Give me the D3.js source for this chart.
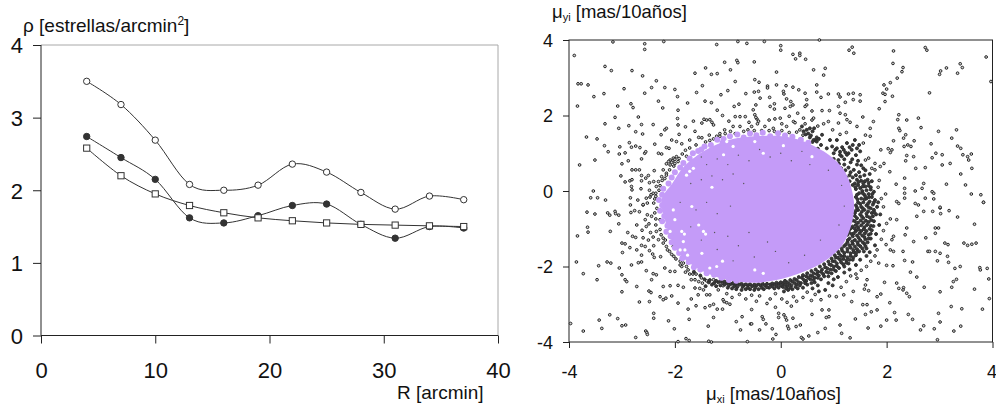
<!DOCTYPE html>
<html><head><meta charset="utf-8">
<script src="https://cdn.jsdelivr.net/npm/d3@7"></script>
<style>html,body{margin:0;padding:0;background:#fff}svg{display:block}text{font-family:"Liberation Sans",Arial,sans-serif;fill:#111}</style>
</head><body><svg id="c" width="996" height="407"></svg>
<script>
const radius=[4,7,10,13,16,19,22,25,28,31,34,37];
const openCircles=[3.5,3.18,2.69,2.08,2.0,2.07,2.36,2.25,1.97,1.74,1.92,1.87];
const filledCircles=[2.74,2.45,2.15,1.62,1.55,1.65,1.79,1.81,1.53,1.34,1.5,1.48];
const squares=[2.58,2.2,1.95,1.79,1.69,1.62,1.58,1.55,1.53,1.52,1.51,1.5];
const leftXTicks=[0,10,20,30,40];
const leftYTicks=[0,1,2,3,4];
const rightTicks=[-4,-2,0,2,4];

// field stars
const fieldFar=[[-3.9,3.59],[-3.17,3.95],[-2.57,3.9],[-2.57,3.75],[-2.21,3.96],[-1.21,3.88],[-.81,3.96],[-.64,3.91],[-.31,3.96],[0,3.85],[0,3.73],[.23,3.62],[.36,3.65],[.36,3.59],[.28,3.5],[.47,3.49],[.73,4],[1.29,3.73],[1.35,3.81],[1.38,3.65],[2.13,3.71],[2.12,3.38],[2.73,3.8],[2.76,3.73],[3.88,3.55],[3.97,2.9],[3.39,3.37],[3.43,3.27],[3.34,3.12],[3.13,3.26],[3.02,3.18],[3,3.09],[2.81,2.6],[2.31,3.27],[2.29,3.16],[2.2,2.99],[2.07,2.87],[1.95,2.81],[2,2.7],[1.93,2.59],[1.97,2.56],[2.11,2.51],[1.97,2.37],[1.86,2.18],[-3.32,3.3],[-3.2,3.19],[-3.83,2.84],[-3.77,2.84],[-3.64,2.81],[-3.53,2.5],[-3.34,2.58],[-3.84,2.25],[-2.96,2.71],[-3.08,2.25],[-3.13,1.95],[-3.32,1.78],[-3.06,1.66],[-2.87,1.73],[-2.63,1.76],[-2.41,1.76],[-2.74,1.57],[-2.61,1.51],[-3.67,1.43],[-3.47,1.38],[-3.33,1.2],[-3.26,1.04],[-3.04,1.17],[-3.05,.98],[-2.94,1.01],[-2.86,1.28],[-2.82,1.16],[-2.74,1.19],[-2.66,1.15],[-3.8,.69],[-3.51,.82],[-2.88,.8],[-3,.72],[-3.02,.4],[-2.94,.24],[-2.85,.27],[-2.81,.3],[-2.81,.56],[-2.74,.56],[-2.67,.56],[-3.54,0],[-3.59,-.18],[-3.46,-.18],[-3.31,-.24],[-2.82,.12],[-2.81,.03],[-2.84,-.18],[-2.84,-.37],
[-3.97,-3.51],[-3.73,-3.71],[-3.43,-3.42],[-3.38,-3.64],[-3.23,-3.28],[-3.08,-3.38],[-3,-3.57],[-2.93,-3.55],[-2.74,-3.88],[-2.55,-3.71],[-2.53,-3.75],[-2.52,-3.8],[-2.4,-3.24],[-2.4,-3.37],[-2.12,-3.44],[-2.01,-3.65],[-1.94,-3.99],[-1.79,-3.91],[-1.73,-3.96],[-1.36,-3.98],[-1.31,-4],[-.63,-3.99],[-1.37,-3.58],[-1.73,-3.4],[-1.27,-3.35],[-1.75,-3.13],[-1.6,-3.04],[-1.43,-3.09],[-1.34,-3.04],[-1.27,-3],[-1.2,-3.13],[-1.1,-3.13],[-.96,-3],[-1.07,-2.93],[-1.02,-2.96],[-.76,-3.68],[-.84,-3.46],[-.73,-3.33],[-.57,-3.52],[-.55,-3.52],[-.4,-3.68],[-.35,-3.33],[-.33,-3.4],[-.28,-3.52],[-.16,-3.65],[-.09,-3.8],[-.15,-3.92],[-.04,-3.24],[-.04,-3.35],[.06,-3.28],[.09,-3.35],[.11,-3.42],[.13,-3.58],[.15,-3.65],[.23,-3.37],[.29,-3.59],[.37,-3.55],[.39,-3.88],[.42,-3.92],[.53,-3.84],[.59,-3.27],[.7,-3.75],[.84,-3.64],[.78,-3.15],[.91,-3.15],[.86,-3.35],[.91,-3.33],[1.12,-3.55],[1.15,-3.77],[1.31,-3.89],[1.41,-3.39],[1.65,-3.63],[1.6,-3.27],[1.71,-3.2],[1.82,-3.15],[1.89,-3.58],[2,-3.42],[2.18,-3.42],[2.15,-3.22],[2.41,-3.27],[2.49,-3.4],[2.64,-3.68],[2.7,-3.57],[2.9,-3.65],[2.96,-3.94],[3.01,-3.47],[2.98,-3.24],[3.27,-3.71],[3.4,-3.58],[3.22,-3.06],[3.42,-3.12],[3.81,-3.13],[3.94,-2.85],[3.66,-2.6],[3.93,-2.33],[3.76,-2.03],[3.77,-2.09],[3.9,-2.05],[3.29,-2.05],[3.39,-2],[3.23,-2.55],[3.26,-2.4],[3.32,-2.34],[3.01,-2.67],[2.71,-2.55],[2.57,-2.28],[2.45,-2.15],[2.49,-1.88],[2.34,-1.84],[2.96,-1.85],[3.17,-1.89],[2.78,-1.6],[2.81,-1.6],[2.92,-1.6],[3.01,-1.65],[3.15,-1.73],[2.74,-1.24],[2.92,-1.12],[2.92,-.98],[2.98,-.98],[3.1,-1.38],[3.16,-1.42],[3.46,-1.38],[3.53,-1.44],[3.61,-1.41],[3.69,-1.38],[3.66,-.88],[3.34,-.69],[3.02,-.6],[3.18,-.52],[2.87,-.54],[3.83,-.3],[2.19,-2.44],[2.23,-2.58],[2.32,-2.56],[2.31,-2.62],[2.38,-2.71],[2.43,-2.8],[1.82,-2.8],[1.89,-2.73],[2.06,-2.96],[1.96,-2.42],[1.63,-2.35],[1.6,-2.49],[1.58,-2.6],[1.66,-2.64],[1.37,-2.66],[1.44,-2.31],[1.19,-2.75],[1.05,-2.8],[.92,-2.78],[1.34,-2.93],[1.55,-3.01],[1.63,-3.01],[2,-1.97],[2.12,-1.98],[1.85,-1.91],[1.82,-1.56],[1.99,-1.42],[2.07,-1.56],[2.13,-1.6],[2.31,-1.6],[2.13,-1.2],[2.1,-1.29],[2.35,-1.16],[2.38,-.98],[2.51,-1.34],[2.07,-.74],[2.19,-.76],[2.57,-.67],[2.7,-.54],[3.01,-.45],
[2.23,2.02],[2.21,1.89],[2.38,1.88],[2.6,1.93],[2.23,1.66],[2.25,1.6],[2.65,1.68],[2.36,1.49],[2.32,1.4],[2.46,1.18],[2.33,1.18],[2.4,1.22],[2.52,1.33],[2.13,1.33],[2.03,1.12],[2.1,1.09],[1.89,1.09],[2.07,1.02],[2.84,1.25],[2.98,1.58],[3.32,1.62],[3.23,1.4],[3.34,1.19],[3.4,1.13],[3.44,.96],[3.53,.91],[3.6,.98],[3.55,.82],[3.61,.6],[2.93,1],[3.05,.96],[2.86,.88],[3.05,.69],[3.2,.73],[2.73,.62],[2.51,.91],[2.38,.94],[2.36,.8],[2.55,.6],[3.4,.45],[3.49,.16],[3.6,-.08],[3.78,-.1],[3.83,-.3],[3.13,.18],[2.7,.2],[2.67,.07],[2.54,0],[2.86,-.02],[2.89,-.06],[2.73,-.19],[2.89,-.21],[2.34,.34],[2.18,.18],[2.06,.51],[1.88,.65],[1.95,.73],[1.78,.73],[1.66,.87],[1.6,.82],[1.78,.56],[2.34,.07],[2.34,-.06],[2.34,-.19],[2.19,-.28],[2.23,-.33],[2.54,-.33],[2.6,-.37],[3.01,-.43]];

const fieldMid=[[-1.62,3.12],[-1.42,3.26],[-1.31,3.09],[-1.2,3.11],[-.95,3.21],[-1.06,3.41],[-.83,3.46],[-.81,3.4],[-.5,3.42],[-.08,3.15],[.62,3.21],[.84,3.25],[.81,3.07],[-2.81,3.19],[-2.61,3.05],[-2.35,2.92],[-2.44,2.74],[-2.19,2.74],[-2.57,2.59],[-2,2.69],[-1.95,2.5],[-2.31,2.38],[-2.23,2.2],[-1.76,2.33],[-1.94,2.14],[-1.95,1.92],[-1.94,1.75],[-2.83,2.31],[-2.79,2.21],[-2.69,1.96],[-1.48,2.79],[-1.59,2.61],[-1.43,2.38],[-1.31,2.34],[-1.2,2.14],[-1.13,2.55],[-1,2.66],[-.86,2.9],[-.66,2.58],[-.5,2.62],[-.42,2.64],[-.49,2.95],[-.41,2.88],[-.25,2.78],[-.25,2.73],[-.39,2.46],[-.21,2.48],[-.88,2.24],[-.79,2.3],[-.47,2.28],[-.2,2.24],[-.12,2.31],[-.12,2.17],[.05,2.64],[.06,2.57],[.11,2.44],[.19,2.37],[.23,2.28],[.18,2.24],[.08,2.19],[-.11,1.91],[-.01,1.93],[-.08,2.81],[.1,2.79],[.23,2.75],[.34,2.68],[.46,2.59],[.68,2.81],[.68,2.62],[.76,2.48],[.9,2.57],[1.09,2.57],[1.12,2.49],[1.28,2.57],[1.37,2.59],[1.5,2.55],[1.37,2.42],[1.5,2.38],[1.22,2.35],[1.09,2.24],[.49,2.42],[.49,2.28],[.46,2.24],[.59,2.12],[.78,2.13],[.92,2.13],[1.12,2.06],[1.22,2.02],[1.55,1.96],[1.25,1.89],[1.31,1.82],[1.44,1.71],[1.09,1.8],[.9,1.84],[.81,1.78],[.62,1.93],[.59,1.88],[.43,1.93],[.46,1.78],[.24,1.84],[.11,1.71],
[-1.4,1.88],[-1.34,1.89],[-1.27,1.75],[-1.49,1.8],[-1.62,1.58],[-1.72,1.35],[-1.49,1.41],[-1.34,1.34],[-1.15,1.45],[-1.06,1.62],[-.9,1.71],[-.77,1.71],[-.67,1.97],[-.86,1.97],[-.77,1.97],[-.52,2.15],[-.49,2.02],[-.45,1.91],[-.42,1.85],[-.55,1.71],[-.3,1.71],[-.36,1.6],[-.14,1.66],[.27,1.81],[-1.45,1.9],[-1.3,1.82],[-1.21,1.45],[-1.27,1.38],[-1.55,1.42],[-.62,1.62],[-.7,1.58],[-.5,1.6],[-.44,1.78],[-.47,1.95],
[-2.16,1.66],[-2.19,1.62],[-2.26,1.49],[-2.06,1.35],[-1.97,1.31],[-1.87,1.25],[-2.11,1.13],[-2.16,1.15],[-2.38,1.24],[-2.31,1],[-2.25,.98],[-2.57,1],[-2.55,1.04],[-2.63,.85],[-2.09,.82],[-2.03,.87],[-1.97,.91],[-2,.73],[-2.09,.69],[-2.16,.72],[-2.22,.56],[-2.16,.47],[-2.39,.54],[-2.25,.38],[-2.19,.33],[-2.31,.25],[-2.35,.12],[-2.41,-.06],[-2.54,-.19],[-2.38,-.21],[-2.31,-.24],[-2.6,-.37],[-2.5,.41],[-2.55,.34],[-2.63,.41],[-2.63,.27],[-2.48,.22],[-2.4,.25],[-2.04,.8],[-2,.84],[-2.06,.76],[-1.94,.78],[-2.12,.78],[-2.45,-.1],[-2.47,-.16],[-2.36,-.06],
[-3.66,-.56],[-3.51,-.61],[-3.65,-.96],[-3.64,-1.09],[-3.84,-1.19],[-3.27,-.58],[-3.23,-.64],[-3.13,-.54],[-3.06,-.64],[-3.12,-.6],[-3.06,-.87],[-3.22,-1.07],[-2.6,-.36],[-2.83,-.57],[-2.76,-.52],[-2.67,-.55],[-2.52,-.63],[-2.44,-.67],[-2.36,-.74],[-2.28,-.76],[-2.54,-.94],[-2.49,-.87],[-2.46,-1.1],[-2.35,-1.07],[-2.41,-1.22],[-2.31,-1.29],[-2.22,-1.25],[-2.16,-1.47],[-2.03,-1.47],[-2.22,-1.38],[-2.89,-1.1],[-2.8,-1.2],[-2.74,-1.23],[-2.63,-1.44],[-2.56,-1.47],[-3,-1.38],[-2.94,-1.4],[-2.99,-1.63],[-2.85,-1.5],[-2.72,-1.56],[-2.63,-1.7],[-2.48,-1.58],[-2.42,-1.67],[-2.39,-1.76],[-2.27,-1.74],[-2.82,-1.96],[-2.69,-1.9],[-2.63,-1.88],[-2.54,-2.11],[-2.41,-2.19],[-2.35,-2.22],[-3,-2.22],[-2.94,-2.35],[-2.91,-2.4],[-2.72,-2.53],[-2.44,-2.35],[-3.47,-2.35],[-3.86,-1.88],[-3.73,-2.19],[-3.44,-1.98],[-3.28,-1.88],[-3.21,-1.91],[-3.05,-2.04],[-3,-2.67],[-2.49,-2.65],[-2.45,-2.69],[-2.28,-2.8],[-2.22,-2.88],[-2.17,-2.84],[-2.06,-2.78],[-1.94,-2.97],[-2.67,-2.94],[-2.48,-2.93],
[-2.19,-2.04],[-2.09,-2.13],[-2,-2.13],[-1.87,-2],[-1.84,-1.91],[-1.75,-2.09],[-1.69,-2.35],[-1.62,-2.35],[-1.53,-2.58],[-1.46,-2.62],[-1.56,-2.75],[-1.69,-2.86],[-1.84,-2.55],[-2.09,-2.51],[-2.22,-2.53],[-1.94,-2.5],[-1.34,-2.75],[-1.18,-2.62],[-1.09,-2.88],[-1.62,-2.57],[-1.4,-2.75],[-1.27,-2.35],[-1.09,-2.51],[-1.72,-2.2],[-1.8,-2.15],[-1.55,-2.4],[-1.48,-2.44],[-1.4,-2.38],[-1.6,-2.2],[-1.5,-2.3],[-1.9,-1.86],[-2.02,-1.73],[-2.1,-1.6]];

const fieldDense=[[.43,1.58],[.49,1.62],[.55,1.66],[.4,1.71],[.63,1.66],[.65,1.35],[.68,1.31],[.62,1.35],[.78,1.49],[.87,1.13],[1.06,1.13],[1.12,1.04],[1.19,1.09],[1.25,1.27],[1.28,1],[1.4,1.35],[1.34,1.09],[1.44,1.13],[1.06,1.35],[.93,1.35],[1.09,.82],[1.25,.96],[1.15,.92],[1.03,1.09],[.97,1.18],[.52,1.52],[.57,1.47],[.68,1.42],[.72,1.38],[.6,1.58],[.47,1.5],[1.0,.85],[1.1,.72],[1.14,.6],[1.22,.55],[1.2,.7],[1.28,.62],[1.32,.5],[1.38,.56],[1.3,.42],[1.36,.36],[1.42,.42],[1.48,.5],[1.44,.3],[1.5,.38],[1.52,.27],[1.4,.2],[1.46,.16],[1.56,.2],[1.6,.12],[1.5,.08],[1.42,.05],[1.54,0],[1.62,.02],[1.7,.04],[1.66,-.08],[1.58,-.1],[1.48,-.06],[1.42,-.16],[1.52,-.2],[1.62,-.2],[1.72,-.16],[1.78,-.24],[1.68,-.28],[1.56,-.3],[1.46,-.3],[1.42,-.38],[1.52,-.42],[1.62,-.38],[1.74,-.36],[1.82,-.42],[1.7,-.46],[1.58,-.5],[1.46,-.5],[1.4,-.58],[1.5,-.62],[1.62,-.6],[1.72,-.58],[1.8,-.62],[1.68,-.7],[1.56,-.72],[1.44,-.72],[1.36,-.78],[1.46,-.84],[1.56,-.84],[1.66,-.82],[1.76,-.8],[1.7,-.92],[1.58,-.96],[1.46,-.96],[1.36,-.94],[1.3,-1.02],[1.42,-1.06],[1.52,-1.06],[1.62,-1.06],[1.72,-1.04],[1.66,-1.16],[1.54,-1.18],[1.44,-1.18],[1.34,-1.14],[1.26,-1.16],[1.3,-1.26],[1.4,-1.3],[1.5,-1.3],[1.6,-1.28],[1.7,-1.26],[1.58,-1.4],[1.46,-1.42],[1.36,-1.4],[1.26,-1.36],[1.2,-1.46],[1.32,-1.5],[1.44,-1.54],[1.54,-1.52],[1.62,-1.52],[1.38,-1.62],[1.26,-1.6],[1.16,-1.58],[1.1,-1.66],[1.2,-1.72],[1.32,-1.72],[1.42,-1.7],[1.04,-1.76],[1.12,-1.82],[1.24,-1.84],[1.36,-1.82],[.98,-1.86],[1.06,-1.92],[1.18,-1.94],[1.28,-1.92],[.92,-1.94],[1,-2.0],[1.1,-2.04],[.84,-2.02],[.94,-2.08],[1.04,-2.12],[.78,-2.08],[.86,-2.14],[.96,-2.18],[.7,-2.14],[.8,-2.2],[.9,-2.26],[.62,-2.18],[.72,-2.24],[.56,-2.24],[.64,-2.3],[.76,-2.34],[.48,-2.26],[.56,-2.34],[.4,-2.3],[.48,-2.38],[.64,-2.42],[.3,-2.36],[.38,-2.44],[.5,-2.48],[.22,-2.4],[.3,-2.48],[.42,-2.56],[.12,-2.42],[.2,-2.5],[.32,-2.58],[.04,-2.44],[.12,-2.52],[.22,-2.6],[-.04,-2.46],[.04,-2.54],[.14,-2.62],[-.12,-2.47],[-.04,-2.56],[.06,-2.66],[-.2,-2.48],[-.12,-2.58],[-.22,-2.56],[-.3,-2.5],[-.38,-2.5],[-.32,-2.6],[-.46,-2.5],[-.42,-2.6],[-.54,-2.52],[-.5,-2.62],[-.62,-2.5],[-.58,-2.6],[-.7,-2.5],[-.66,-2.6],[-.78,-2.48],[-.74,-2.62],[-.86,-2.48],[-.84,-2.6],[-.94,-2.46],[-.92,-2.58],[-1.02,-2.44],[-1,-2.56],[-1.1,-2.42],[-1.14,-2.5],[-1.18,-2.42],[-1.22,-2.52],[-1.3,-2.48],[-1.36,-2.42],[-1.42,-2.52],[.9,-2.44],[1,-2.34],[.7,-2.5],[.6,-2.58],[.84,-2.62],[.72,-2.66],[.98,-2.5],[1.08,-2.28],[1.2,-2.16],[1.3,-2.08],[1.42,-1.96],[1.5,-1.82],[1.62,-1.72],[1.68,-1.62],[1.78,-1.44],[1.8,-1.14],[1.86,-.9],[1.88,-.62],[1.84,-.3],[1.76,-.02],[1.66,.14],[1.64,.3],[1.58,.42],[1.56,.6],[1.44,.7],[1.32,.76],[1.2,.84],
[1.41,.1],[1.47,.24],[1.55,.12],[1.59,.26],[1.66,.22],[1.7,.1],[1.44,-.1],[1.55,-.06],[1.6,-.15],[1.67,-.16],[1.73,-.08],[1.45,-.22],[1.5,-.34],[1.58,-.22],[1.65,-.33],[1.76,-.3],[1.44,-.44],[1.55,-.46],[1.66,-.43],[1.76,-.5],[1.42,-.52],[1.53,-.55],[1.65,-.54],[1.77,-.57],[1.4,-.66],[1.53,-.67],[1.63,-.67],[1.74,-.67],[1.4,-.8],[1.51,-.78],[1.61,-.79],[1.71,-.77],[1.42,-.9],[1.52,-.91],[1.63,-.9],[1.75,-.93],[1.33,-.98],[1.4,-1.0],[1.47,-1.02],[1.57,-1.01],[1.68,-1],[1.29,-1.1],[1.38,-1.12],[1.49,-1.12],[1.59,-1.12],[1.7,-1.13],[1.36,-1.2],[1.47,-1.24],[1.58,-1.22],[1.66,-1.26],[1.27,-1.3],[1.35,-1.34],[1.45,-1.36],[1.55,-1.36],[1.64,-1.36],[1.23,-1.42],[1.3,-1.44],[1.4,-1.47],[1.5,-1.46],[1.6,-1.46],[1.15,-1.52],[1.26,-1.53],[1.37,-1.56],[1.48,-1.6],[1.57,-1.6],[1.08,-1.6],[1.2,-1.64],[1.32,-1.65],[1.43,-1.63],[1.02,-1.7],[1.14,-1.72],[1.26,-1.76],[1.37,-1.76],[.96,-1.79],[1.08,-1.77],[1.18,-1.8],[1.3,-1.82],[.9,-1.87],[1.02,-1.86],[1.14,-1.89],[1.24,-1.9],[.82,-1.94],[.95,-1.96],[1.06,-1.99],[1.2,-2],[.74,-2.0],[.88,-2.05],[1,-2.08],[.66,-2.08],[.76,-2.14],[.9,-2.16],[.58,-2.12],[.68,-2.2],[.82,-2.26],[.5,-2.18],[.6,-2.26],[.7,-2.3],[.42,-2.23],[.52,-2.3],[.62,-2.36],[.34,-2.28],[.44,-2.36],[.58,-2.44],[.26,-2.33],[.34,-2.42],[.46,-2.44],[.18,-2.36],[.26,-2.44],[.36,-2.5],[.08,-2.38],[.16,-2.46],[.28,-2.54],[0,-2.42],[.08,-2.48],[.18,-2.56],[-.08,-2.43],[0,-2.5],[.1,-2.58],[-.16,-2.45],[-.08,-2.52],[-.16,-2.53],[-.26,-2.46],[-.26,-2.55],[-.34,-2.46],[-.36,-2.56],[-.42,-2.47],[-.5,-2.48],[-.48,-2.56],[-.58,-2.47],[-.62,-2.56],[-.66,-2.47],[-.74,-2.46],[-.72,-2.54],[-.82,-2.45],[-.82,-2.54],[-.9,-2.44],[-.88,-2.52],[-.98,-2.42],[-.98,-2.5],[-1.06,-2.4],[-1.06,-2.48],[-1.14,-2.39],[-1.22,-2.38],[-1.26,-2.44],[-1.34,-2.36],[-1.44,-2.34],[-1.52,-2.24],[-1.64,-2.14],[.76,.97],[.85,.92],[.94,.82],[1.02,.74],[1.08,.64],[1.16,.5],[1.24,.36],[1.3,.26],[1.36,.16],[1.0,1.0],[1.12,.96],[1.22,1.02],[1.16,1.16],[1.3,1.16],[1.36,1.22],[1.48,1.22],[1.5,1.05],[1.42,.95],[1.35,.84],[1.46,.8],[1.52,.68],[1.6,.55],[1.68,.45],[1.72,.26],[.7,1.12],[.76,1.22],[.6,1.3],[.55,1.42]];

const fieldFill=[[1.56,1.27],[1.69,1.45],[1.75,1.84],[1.69,1.66],[1.6,1.48],[.36,1.62],[.42,1.48],[.3,1.56],[.16,1.55],[.02,1.6],[-.12,1.58],[-.22,1.6],[-.86,1.52],[-.95,1.58],[-1.05,1.52],[-1.15,1.52],[-1.35,1.48],[-1.42,1.3],[-1.6,1.22],[-1.72,1.14],[-1.8,1.08],[-1.86,.98],[-1.92,.86],[-1.78,.92],[-2.02,.66],[-2.1,.56],[-2.16,.42],[-2.24,.28],[-2.28,.14],[-2.3,.02],[-2.36,-.14],[-2.4,-.32],[-2.34,-.46],[-2.38,-.58],[-2.36,-.9],[-2.28,-1.02],[-2.26,-1.16],[-2.18,-1.3],[-2.14,-1.56],[-2.06,-1.68],[-1.98,-1.8],[-1.9,-1.96],[-1.78,-2],[-1.66,-2.2],[-1.02,-2.72],[-.92,-2.82],[-.78,-2.74],[-.66,-2.86],[-.55,-2.76],[-.46,-2.92],[-.4,-2.78],[-.26,-2.98],[-.2,-2.86],[-.1,-2.72],[.02,-2.86],[.12,-2.95],[.24,-2.8],[.3,-2.92],[.42,-2.82],[.5,-2.68],[.58,-2.9],[.65,-2.74],[.76,-2.88],[.2,-3.05],[-.1,-3.08],[-.55,-3.14],[1.14,-2.55],[1.24,-2.4],[1.32,-2.25],[1.42,-2.2],[1.52,-2.1],[1.62,-2.0],[1.7,-1.86],[1.78,-1.72],[1.9,-1.28],[1.94,-1.05],[2,-.86],[1.94,-.42],[1.9,-.2],[1.98,-.08],[1.84,.1],[1.86,.28],[1.72,.6],[-1.1,2.0],[-.98,1.85],[-.6,1.82],[-.22,1.88],[.02,1.78],[.16,1.98],[.32,2.06],[.7,1.72],[.98,1.62],[1.12,1.5],[1.24,1.55],[-1.92,1.5],[-1.8,1.7],[-1.65,1.85],[-2.48,.02],[-2.64,.06],[-2.52,-.32],[-2.7,-.24],[-2.56,-.76],[-2.62,-1.04],[-2.72,-.9],[-2.5,-1.3],[-2.4,-1.45],[-2.6,-1.24]];

// dense core of the cluster: outline of the purple disc
const coreX=[-.33,.24,.81,1.19,1.37,1.37,1.19,.87,.43,-.08,-.52,-1.08,-1.59,-1.95,-2.2,-2.25,-2.05,-1.82,-1.4,-.96];
const coreY=[1.46,1.4,1.05,.56,-.15,-.67,-1.38,-1.82,-2.14,-2.36,-2.43,-2.33,-2.03,-1.6,-.7,-.22,.2,.66,1.1,1.36];
const memberEdge=[[-.96,1.45],[-.82,1.5],[-.7,1.42],[-.58,1.52],[-.46,1.48],[-.34,1.54],[-.2,1.45],[-.05,1.53],[.08,1.47],[.22,1.44],[.38,1.36],[.52,1.28],[-1.08,1.38],[-1.2,1.36],[-1.32,1.22],[-1.44,1.18],[-1.56,1.06],[-1.66,1],[-1.72,.86],[-1.84,.74],[-1.9,.62],[-2,.5],[-2.06,.36],[-2.12,.2],[-2.22,.06],[-2.24,-.1],[-2.3,-.24],[-2.24,-.38],[-2.28,-.52],[-2.2,-.66],[-2.24,-.8],[-2.14,-.92],[-2.16,-1.08],[-2.08,-1.2],[-2.06,-1.36],[-2,-1.5],[-1.92,-1.64],[-1.86,-1.78],[-1.74,-1.88],[-1.64,-2.02],[-1.52,-2.08],[-1.4,-2.18],[-1.26,-2.22],[-1.12,-2.3],[-.98,-2.36],[-.84,-2.38],[-1.5,1.1],[-1.1,1.28]];
const coreGaps=[[-1.65,.6],[-1.72,.52],[-1.78,.42],[-1.08,.96],[-.33,1],[.05,1.2],[-.49,1.31],[-1.02,1.31],[-.9,1.18],[.59,.91],[-1.87,-1.07],[-1.82,-1.14],[-1.46,-1.07],[-1.42,-1.14],[-1.9,-1.56],[-1.81,-1.56],[-1.84,-1.34],[-1.49,-1.65],[-1.21,-2],[-1.34,-2.04],[-.49,-2.09],[-.33,-2.18],[-2.09,-1.07],[-2,-.76],[-1.68,-.41],[-2.03,-.5],[-1.76,-1.7],[-1.3,.1],[-1.55,-.9],[-1.1,-1.86]];
const coreSpecks=[[-1.5,.9],[-1.4,.7],[-1.2,.85],[-1,.7],[-.8,.95],[-.6,.8],[-.4,1.1],[-.2,.9],[0,1],[.2,.8],[.4,1.05],[.55,.7],[-1.7,.2],[-1.5,.3],[-1.3,.4],[-1.1,.3],[-.9,.45],[-.7,.2],[-1.9,-.3],[-1.6,-.5],[-1.4,-.3],[-1.2,-.6],[-.95,-.4],[-1.7,-.95],[-1.5,-1.3],[-1.25,-1.1],[-1,-1.2],[-.8,-1.45],[-.6,-1.1],[-1.2,-1.55],[-.9,-1.85],[-.5,-1.75],[-.25,-1.35],[-.1,-1.6],[.15,-1.9],[.45,-1.7],[.75,-1.3],[1.1,-.9],[1.2,-.4],[1.15,.15],[.9,.55]];

const svg=d3.select("#c");
const ink="#222";

// ---- left panel
const lx=d3.scaleLinear().domain([0,40]).range([41,498]);
const ly=d3.scaleLinear().domain([0,4]).range([335.5,45]);
const L=svg.append("g");
L.append("path").attr("d",`M${lx(0)},${ly(4)}H${lx(40)}V${ly(0)}`).attr("fill","none").attr("stroke","#a8a8a8").attr("stroke-width",1);
const laxL=L.append("g").attr("transform",`translate(${lx(0)},0)`).call(d3.axisLeft(ly).tickValues(leftYTicks).tickSize(8).tickFormat(d3.format("d")));
const laxB=L.append("g").attr("transform",`translate(0,${ly(0)})`).call(d3.axisBottom(lx).tickValues(leftXTicks).tickSize(8).tickFormat(d3.format("d")));
[laxL,laxB].forEach(a=>{a.selectAll("line").attr("stroke",ink);a.select(".domain").attr("d",null);a.selectAll("text").style("font-size","22px").attr("fill","#111");});
laxL.append("path").attr("d",`M0,${ly(0)}V${ly(4)}`).attr("stroke",ink);
laxB.append("path").attr("d",`M${lx(0)},0H${lx(40)}`).attr("stroke",ink);
laxL.selectAll("text").attr("x",-18).attr("dy","0.36em");
laxB.selectAll("text").attr("y",42.5).attr("dy",0);
const curve=d3.line().x((d,i)=>lx(radius[i])).y(d=>ly(d)).curve(d3.curveCatmullRom.alpha(0));
[openCircles,filledCircles,squares].forEach(s=>L.append("path").attr("d",curve(s)).attr("fill","none").attr("stroke","#333").attr("stroke-width",1));
L.selectAll(".fc").data(filledCircles).join("circle").attr("cx",(d,i)=>lx(radius[i])).attr("cy",d=>ly(d)).attr("r",3.2).attr("fill","#333").attr("stroke","#333");
L.selectAll(".oc").data(openCircles).join("circle").attr("cx",(d,i)=>lx(radius[i])).attr("cy",d=>ly(d)).attr("r",3.2).attr("fill","#fff").attr("stroke","#333");
L.selectAll(".sq").data(squares).join("rect").attr("x",(d,i)=>lx(radius[i])-3.1).attr("y",d=>ly(d)-3.1).attr("width",6.2).attr("height",6.2).attr("fill","#fff").attr("stroke","#333");
const rhoT=L.append("text").attr("x",23).attr("y",32).style("font-size","19px");
rhoT.append("tspan").text("ρ [estrellas/arcmin");
rhoT.append("tspan").attr("dy",-7).style("font-size","12px").text("2");
rhoT.append("tspan").attr("dy",7).text("]");
L.append("text").attr("x",397).attr("y",399).style("font-size","19px").text("R [arcmin]");

// ---- right panel
const rx=d3.scaleLinear().domain([-4,4]).range([569,992.5]);
const ry=d3.scaleLinear().domain([-4,4]).range([342,40]);
const R=svg.append("g");
const raxL=R.append("g").attr("transform",`translate(${rx(-4)},0)`).call(d3.axisLeft(ry).tickValues(rightTicks).tickSize(6).tickFormat(d=>String(d)));
const raxB=R.append("g").attr("transform",`translate(0,${ry(-4)})`).call(d3.axisBottom(rx).tickValues(rightTicks).tickSize(6).tickFormat(d=>String(d)));
[raxL,raxB].forEach(a=>{a.select(".domain").attr("d",null);a.selectAll("line").attr("stroke",ink);a.selectAll("text").style("font-size","18px").attr("fill","#111");});
raxL.selectAll("text").attr("x",-16).attr("dy","0.36em");
raxB.selectAll("text").attr("y",35.7).attr("dy",0);
raxB.selectAll("text").filter(d=>d===4).attr("x",-1);
R.append("rect").attr("x",rx(-4)).attr("y",ry(4)).attr("width",rx(4)-rx(-4)).attr("height",ry(-4)-ry(4)).attr("fill","none").attr("stroke",ink);
R.selectAll(".st").data(fieldFar.concat(fieldMid,fieldFill)).join("circle").attr("cx",d=>rx(d[0])).attr("cy",d=>ry(d[1])).attr("r",1.35).attr("fill","#d0d0d0").attr("stroke","#262626").attr("stroke-width",1);
R.selectAll(".dn").data(fieldDense).join("circle").attr("cx",d=>rx(d[0])).attr("cy",d=>ry(d[1])).attr("r",1.5).attr("fill","#3a3a3a").attr("stroke","#2e2e2e").attr("stroke-width",1);
const purple="#c49bf8";
R.append("path").datum(d3.zip(coreX,coreY)).attr("d",d3.line().x(d=>rx(d[0])).y(d=>ry(d[1])).curve(d3.curveCatmullRomClosed)).attr("fill",purple);
R.selectAll(".me").data(memberEdge).join("circle").attr("cx",d=>rx(d[0])).attr("cy",d=>ry(d[1])).attr("r",3).attr("fill",purple);
R.selectAll(".gp").data(coreGaps).join("circle").attr("cx",d=>rx(d[0])).attr("cy",d=>ry(d[1])).attr("r",1.6).attr("fill","#fff");
R.selectAll(".sp").data(coreSpecks).join("circle").attr("cx",d=>rx(d[0])).attr("cy",d=>ry(d[1])).attr("r",.7).attr("fill","#555");
const myT=R.append("text").attr("x",552).attr("y",18).style("font-size","18.5px");
myT.append("tspan").text("μ");myT.append("tspan").attr("dy",3).style("font-size","11px").text("yi");myT.append("tspan").attr("dy",-3).text(" [mas/10años]");
const mxT=R.append("text").attr("x",706).attr("y",400).style("font-size","18.5px");
mxT.append("tspan").text("μ");mxT.append("tspan").attr("dy",3).style("font-size","11px").text("xi");mxT.append("tspan").attr("dy",-3).text(" [mas/10años]");
</script></body></html>
